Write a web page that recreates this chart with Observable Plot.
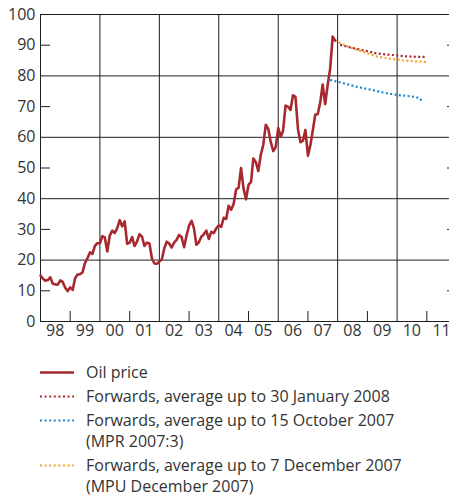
<!DOCTYPE html>
<html>
<head>
<meta charset="utf-8">
<script src="https://cdn.jsdelivr.net/npm/d3@7"></script>
<script src="https://cdn.jsdelivr.net/npm/@observablehq/plot@0.6"></script>
<style>
html, body { margin: 0; padding: 0; background: #fff; overflow: hidden; }
body { width: 449px; height: 497px; position: relative; font-family: "Open Sans", sans-serif; color: #333; }
#chart { width: 449px; height: 345px; overflow: hidden; }
#chart svg { display: block; max-width: none !important; width: 460px !important; height: 345px !important; }
#legend { position: absolute; left: 40px; top: 362px; width: 409px; }
.item { display: flex; align-items: flex-start; margin-bottom: 3px; }
.item svg { flex: none; margin-top: 0; }
.item span { margin-left: 12px; font-size: 16px; line-height: 21px; white-space: pre-line; color: #333; }
</style>
</head>
<body>
<div id="chart"></div>
<div id="legend"></div>
<script>
// ---- data ----
const oilStartYear = 1998;
const oilPrice = [
  15.0, 13.9, 13.3, 13.5, 14.4, 12.3, 12.1, 12.0, 13.4, 12.9, 11.0, 9.9,   // 1998
  11.1, 10.3, 14.0, 15.3, 15.4, 16.0, 19.0, 20.6, 22.5, 22.0, 24.6, 25.5,  // 1999
  25.5, 27.8, 27.4, 22.8, 28.0, 29.6, 28.8, 30.4, 33.0, 31.0, 32.6, 25.3,  // 2000
  25.7, 27.5, 24.6, 26.0, 28.4, 27.7, 24.6, 25.7, 25.4, 20.6, 18.9, 18.8,  // 2001
  19.5, 20.3, 23.7, 26.0, 25.4, 24.1, 25.7, 26.6, 28.2, 27.5, 24.2, 28.0,  // 2002
  31.2, 32.8, 30.5, 25.0, 25.8, 27.6, 28.4, 29.6, 26.9, 29.2, 28.8, 30.3,  // 2003
  31.3, 30.8, 33.8, 33.4, 37.7, 36.4, 38.2, 43.0, 43.6, 50.0, 43.2, 39.8,  // 2004
  44.5, 45.5, 53.1, 51.9, 49.0, 54.3, 57.5, 64.1, 62.7, 58.5, 55.5, 56.8,  // 2005
  63.0, 60.2, 62.1, 70.3, 70.0, 68.9, 73.7, 73.2, 62.5, 58.4, 58.9, 62.4,  // 2006
  54.0, 57.6, 62.1, 67.4, 67.5, 71.3, 77.2, 70.8, 77.1, 82.3, 92.8, 91.5   // 2007
];

const fwdJan08Dates  = ["2008-02", "2008-06", "2008-12", "2009-05", "2009-11", "2010-04", "2010-09", "2011-01"];
const fwdJan08Values = [90.1, 89.3, 88.2, 87.3, 86.8, 86.4, 86.2, 86.2];

const fwdOct07Dates  = ["2007-10", "2008-04", "2008-09", "2009-03", "2009-08", "2010-01", "2010-07", "2010-10", "2010-11"];
const fwdOct07Values = [78.7, 77.5, 76.4, 75.4, 74.5, 73.8, 73.3, 72.8, 71.9];

const fwdDec07Dates  = ["2007-12", "2008-02", "2008-06", "2008-12", "2009-05", "2009-11", "2010-04", "2010-09", "2011-01"];
const fwdDec07Values = [91.7, 90.7, 89.3, 87.6, 86.3, 85.5, 85.0, 84.7, 84.5];

const yLabelTicks = [0, 10, 20, 30, 40, 50, 60, 70, 80, 90, 100];
const yGridTicks = [20, 40, 60, 80];
const yShortTicks = [10, 30, 50, 70, 90];
const years = [1998, 1999, 2000, 2001, 2002, 2003, 2004, 2005, 2006, 2007, 2008, 2009, 2010, 2011];
const yearLabels = ["98", "99", "00", "01", "02", "03", "04", "05", "06", "07", "08", "09", "10", "11"];
const gridYears = [2000, 2002, 2004, 2006, 2008, 2010];
const shortTickYears = [1999, 2001, 2003, 2005, 2007, 2009, 2011];
const xDomainYears = [1998, 2012];

const seriesNames = [
  "Oil price",
  "Forwards, average up to 30 January 2008",
  "Forwards, average up to 15 October 2007\n(MPR 2007:3)",
  "Forwards, average up to 7 December 2007\n(MPU December 2007)"
];
const seriesColors = ["#a8282f", "#a8282f", "#1d88cf", "#f2a62a"];

// ---- build ----
const ym = (s) => { const [y, m] = s.split("-").map(Number); return new Date(Date.UTC(y, m - 1, 1)); };
const yr = (y) => new Date(Date.UTC(y, 0, 1));
const midYr = (y) => new Date(Date.UTC(y, 6, 1));

const oil = oilPrice.map((v, i) => ({date: new Date(Date.UTC(oilStartYear, i, 1)), value: v}));
const mk = (dates, vals) => dates.map((d, i) => ({date: ym(d), value: vals[i]}));
const fJan08 = mk(fwdJan08Dates, fwdJan08Values);
const fOct07 = mk(fwdOct07Dates, fwdOct07Values);
const fDec07 = mk(fwdDec07Dates, fwdDec07Values);

const ink = "#1e1e1e";
const dots = {strokeWidth: 2.2, strokeDasharray: "2,2.4", strokeLinecap: "butt"};

const chart = Plot.plot({
  width: 460,
  height: 345,
  marginLeft: 40,
  marginRight: 4,
  marginTop: 14,
  marginBottom: 24,
  x: {type: "utc", domain: xDomainYears.map(yr), axis: null},
  y: {domain: [0, 100], axis: null},
  style: {fontFamily: "Open Sans, sans-serif", fontSize: "16px", color: "#333", background: "white"},
  marks: [
    Plot.ruleY(yGridTicks, {stroke: ink, strokeWidth: 1}),
    Plot.ruleX(gridYears.map(yr), {stroke: ink, strokeWidth: 1}),
    Plot.frame({stroke: ink, strokeWidth: 1}),
    // inward short ticks
    Plot.axisY({anchor: "left", ticks: yShortTicks, tickSize: 10, dx: 10, tickFormat: () => "", label: null, stroke: ink}),
    Plot.axisY({anchor: "right", ticks: yShortTicks, tickSize: 10, dx: -10, tickFormat: () => "", label: null, stroke: ink}),
    Plot.axisX({anchor: "bottom", ticks: shortTickYears.map(yr), tickSize: 10, dy: -10, tickFormat: () => "", label: null, stroke: ink}),
    // labels
    Plot.axisY({anchor: "left", ticks: yLabelTicks, tickSize: 0, tickPadding: 5, label: null, fill: "#333"}),
    Plot.axisX({anchor: "bottom", ticks: years.map(midYr), tickSize: 0, tickPadding: 3, label: null, fill: "#333",
      tickFormat: (d) => yearLabels[years.indexOf(d.getUTCFullYear())]}),
    // series
    Plot.line(fOct07, {x: "date", y: "value", stroke: seriesColors[2], ...dots}),
    Plot.line(fDec07, {x: "date", y: "value", stroke: seriesColors[3], ...dots}),
    Plot.line(fJan08, {x: "date", y: "value", stroke: seriesColors[1], ...dots}),
    Plot.line(oil, {x: "date", y: "value", stroke: seriesColors[0], strokeWidth: 2.6, curve: "linear"})
  ]
});
document.getElementById("chart").appendChild(chart);

// legend
const legend = document.getElementById("legend");
seriesNames.forEach((name, i) => {
  const item = document.createElement("div");
  item.className = "item";
  const dashed = i > 0;
  item.innerHTML =
    `<svg width="34" height="21"><line x1="0" x2="34" y1="10.5" y2="10.5" stroke="${seriesColors[i]}" ` +
    (dashed ? `stroke-width="2" stroke-dasharray="2,2.6"` : `stroke-width="2.6"`) + `/></svg>` +
    `<span></span>`;
  item.querySelector("span").textContent = name;
  legend.appendChild(item);
});
</script>
</body>
</html>
